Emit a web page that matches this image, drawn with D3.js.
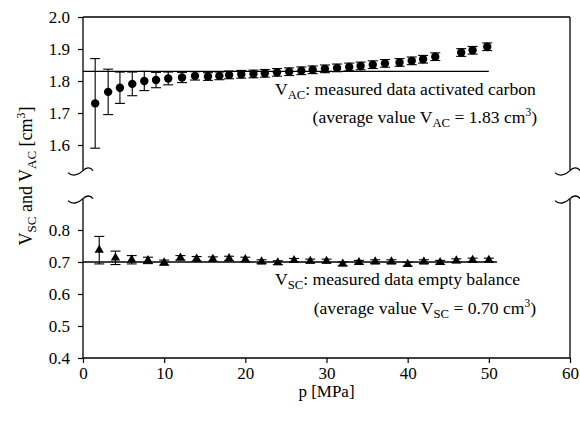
<!DOCTYPE html>
<html>
<head>
<meta charset="utf-8">
<script src="https://cdn.jsdelivr.net/npm/d3@7"></script>
<style>
  body { margin: 0; background: #fff; }
</style>
</head>
<body>
<div id="chartContainer"></div>
<script>
// activated carbon (circles)
var pAC = [1.5, 3.1, 4.55, 6.07, 7.55, 9.0, 10.5, 12.2, 13.8, 15.4, 16.8, 18.0,
  19.5, 21.0, 22.4, 23.9, 25.4, 26.9, 28.3, 29.8, 31.3, 32.8, 34.2, 35.7,
  37.2, 39.0, 40.5, 41.9, 43.4, 46.6, 48.0, 49.8];
var vAC = [1.730, 1.766, 1.779, 1.791, 1.800, 1.803, 1.808, 1.811, 1.816, 1.814, 1.816, 1.819,
  1.821, 1.822, 1.824, 1.827, 1.829, 1.832, 1.835, 1.838, 1.841, 1.844, 1.847, 1.851,
  1.855, 1.858, 1.863, 1.868, 1.876, 1.889, 1.896, 1.907];
var eAC = [0.140, 0.071, 0.049, 0.037, 0.030, 0.024, 0.020, 0.016, 0.013, 0.012, 0.012, 0.012,
  0.012, 0.012, 0.012, 0.012, 0.012, 0.012, 0.012, 0.012, 0.012, 0.012, 0.012, 0.012,
  0.012, 0.012, 0.012, 0.012, 0.012, 0.012, 0.012, 0.012];

// empty balance (triangles)
var pSC = [2, 4, 6, 8, 10, 12, 14, 16, 18, 20, 22, 24, 26, 28, 30, 32, 34, 36, 38, 40, 42, 44, 46, 48, 50];
var vSC = [0.737, 0.713, 0.707, 0.705, 0.698, 0.713, 0.710, 0.709, 0.711, 0.708, 0.701, 0.698, 0.705,
  0.703, 0.703, 0.694, 0.699, 0.701, 0.701, 0.693, 0.701, 0.699, 0.704, 0.706, 0.706];
var eSC = [0.043, 0.021, 0.013, 0.010, 0.008, 0.007, 0.007, 0.007, 0.007, 0.007, 0.006, 0.006, 0.006,
  0.006, 0.006, 0.006, 0.006, 0.006, 0.006, 0.006, 0.006, 0.006, 0.006, 0.006, 0.006];

var meanAC = 1.83, meanSC = 0.70;
var xTicks = [0, 10, 20, 30, 40, 50, 60];
var yTicksTop = [1.6, 1.7, 1.8, 1.9, 2.0];
var yTicksBot = [0.4, 0.5, 0.6, 0.7, 0.8];

var FONT = '"Liberation Serif", "Times New Roman", Times, "DejaVu Serif", serif';
var width = 580, height = 422;
var left = 83, right = 570;
var svg = d3.select('#chartContainer').append('svg').
attr('width', width).
attr('height', height).
attr('font-family', FONT);

var x = d3.scaleLinear().domain([0, 60]).range([left, right]);
var yTop = d3.scaleLinear().domain([1.5, 2.0]).range([177, 17]);
var yBot = d3.scaleLinear().domain([0.4, 0.9]).range([358, 198]);
var topEnd = yTop(1.52), botStart = yBot(0.898);

// axes
var xAxis = d3.axisBottom(x).tickValues(xTicks).tickSize(5).tickSizeOuter(0).tickPadding(4);
var gx = svg.append('g').attr('transform', 'translate(0,' + yBot(0.4) + ')').call(xAxis);

var gyt = svg.append('g').attr('transform', 'translate(' + left + ',0)').
call(d3.axisLeft(yTop).tickValues(yTicksTop).tickFormat(d3.format('.1f')).tickSize(5).tickPadding(8));
var gyb = svg.append('g').attr('transform', 'translate(' + left + ',0)').
call(d3.axisLeft(yBot).tickValues(yTicksBot).tickFormat(d3.format('.1f')).tickSize(5).tickPadding(8));
[gx, gyt, gyb].forEach(function (g) {
  g.attr('font-family', FONT).attr('font-size', 17);
  g.select('.domain').remove();
  g.selectAll('line').attr('stroke', '#000').attr('stroke-width', 1.2);
  g.selectAll('text').attr('fill', '#000');
});

var frame = svg.append('g').attr('stroke', '#000').attr('stroke-width', 1.3).attr('fill', 'none');
frame.append('line').attr('x1', left).attr('x2', right).attr('y1', yBot(0.4)).attr('y2', yBot(0.4));
frame.append('line').attr('x1', left).attr('x2', right).attr('y1', yTop(2.0)).attr('y2', yTop(2.0));
[left, right].forEach(function (xx) {
  frame.append('line').attr('x1', xx).attr('x2', xx).attr('y1', yTop(2.0)).attr('y2', topEnd);
  frame.append('line').attr('x1', xx).attr('x2', xx).attr('y1', botStart).attr('y2', yBot(0.4));
  // break marks
  frame.append('path').attr('d', 'M-15,2 C-11,6 -5,5 0,0 C3,-3 7,-4 10,0').
  attr('transform', 'translate(' + xx + ',' + topEnd + ')');
  frame.append('path').attr('d', 'M-15,2 C-11,6 -5,5 0,0 C3,-3 7,-4 10,0').
  attr('transform', 'translate(' + xx + ',' + botStart + ')');
});

// mean lines
svg.append('line').attr('x1', x(0)).attr('x2', x(50)).attr('y1', yTop(meanAC)).attr('y2', yTop(meanAC)).
attr('stroke', '#000').attr('stroke-width', 1.3);
svg.append('line').attr('x1', x(0)).attr('x2', x(51)).attr('y1', yBot(meanSC)).attr('y2', yBot(meanSC)).
attr('stroke', '#000').attr('stroke-width', 1.3);

function errorBars(p, v, e, y) {
  var g = svg.append('g').attr('stroke', '#000').attr('stroke-width', 1.1);
  p.forEach(function (pp, i) {
    var cx = x(pp), y1 = y(v[i] + e[i]), y2 = y(v[i] - e[i]);
    g.append('line').attr('x1', cx).attr('x2', cx).attr('y1', y1).attr('y2', y2);
    g.append('line').attr('x1', cx - 5).attr('x2', cx + 5).attr('y1', y1).attr('y2', y1);
    g.append('line').attr('x1', cx - 5).attr('x2', cx + 5).attr('y1', y2).attr('y2', y2);
  });
}
errorBars(pAC, vAC, eAC, yTop);
errorBars(pSC, vSC, eSC, yBot);

svg.append('g').selectAll('circle').data(pAC).enter().append('circle').
attr('cx', function (d) {return x(d);}).
attr('cy', function (d, i) {return yTop(vAC[i]);}).
attr('r', 4.2).
attr('fill', '#000');

svg.append('g').selectAll('path').data(pSC).enter().append('path').
attr('d', d3.symbol().type(d3.symbolTriangle).size(38)).
attr('transform', function (d, i) {return 'translate(' + x(d) + ',' + yBot(vSC[i]) + ')';}).
attr('fill', '#000');

// annotations
function label(xx, yy, anchor, parts, fs) {
  fs = fs || 17.6;
  var t = svg.append('text').attr('x', xx).attr('y', yy).attr('text-anchor', anchor).
  attr('font-family', FONT).attr('font-size', fs).attr('fill', '#000');
  parts.forEach(function (p) {
    var s = t.append('tspan').text(p[0]);
    if (p[1] === 'sub') s.attr('dy', 4).attr('font-size', fs * 0.72);
    if (p[1] === 'sup') s.attr('dy', -7).attr('font-size', fs * 0.65);
    if (p[1] === 'back') s.attr('dy', -4);
    if (p[1] === 'down') s.attr('dy', 7);
  });
  return t;
}
label(275, 95, 'start', [['V'], ['AC', 'sub'], [': measured data activated carbon', 'back']]);
label(537, 123, 'end', [['(average value V'], ['AC', 'sub'], [' = 1.83 cm', 'back'], ['3', 'sup'], [')', 'down']]);
label(275, 285, 'start', [['V'], ['SC', 'sub'], [': measured data empty balance', 'back']]);
label(536, 314, 'end', [['(average value V'], ['SC', 'sub'], [' = 0.70 cm', 'back'], ['3', 'sup'], [')', 'down']]);

label(x(30), 397, 'middle', [['p [MPa]']], 17);

var yl = label(0, 0, 'middle', [['V'], ['SC', 'sub'], [' and V', 'back'], ['AC', 'sub'], [' [cm', 'back'], ['3', 'sup'], [']', 'down']], 18);
yl.attr('transform', 'translate(32,176) rotate(-90)');
</script>
</body>
</html>
